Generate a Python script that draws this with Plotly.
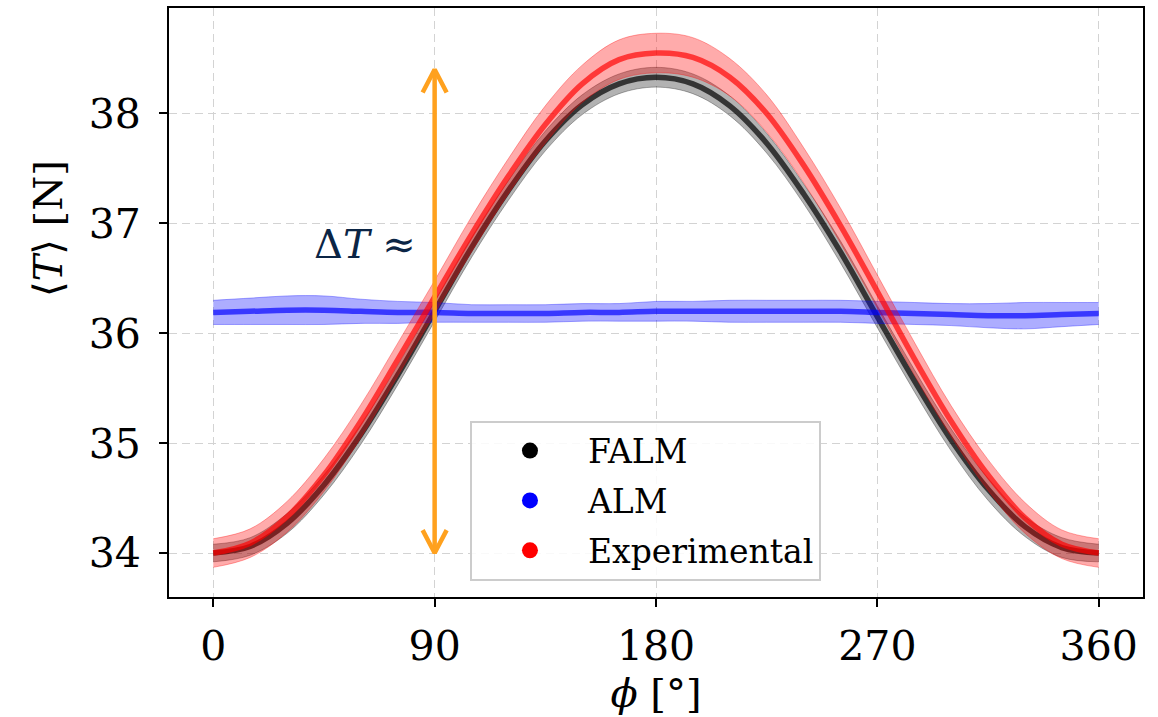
import plotly.graph_objects as go

# ---------------- data ----------------
phi = [0, 15, 30, 45, 60, 75, 90, 105, 120, 135, 150, 165, 180,
       195, 210, 225, 240, 255, 270, 285, 300, 315, 330, 345, 360]

falm_mean = [34.00, 34.06, 34.27, 34.62, 35.08, 35.62, 36.20, 36.78, 37.30, 37.75, 38.08, 38.27, 38.33,
             38.27, 38.07, 37.73, 37.27, 36.74, 36.15, 35.57, 35.03, 34.58, 34.24, 34.05, 34.00]
falm_std = [0.08, 0.08, 0.09, 0.09, 0.09, 0.09, 0.09, 0.09, 0.09, 0.09, 0.09, 0.09, 0.09,
            0.09, 0.09, 0.09, 0.09, 0.10, 0.10, 0.10, 0.10, 0.10, 0.09, 0.09, 0.08]

alm_mean = [36.19, 36.20, 36.21, 36.21, 36.20, 36.19, 36.19, 36.18, 36.18, 36.18, 36.19, 36.19, 36.20,
            36.20, 36.20, 36.20, 36.20, 36.20, 36.19, 36.18, 36.17, 36.16, 36.16, 36.17, 36.18]
alm_std = [0.11, 0.12, 0.13, 0.13, 0.11, 0.10, 0.09, 0.08, 0.08, 0.08, 0.08, 0.08, 0.09,
           0.09, 0.10, 0.10, 0.10, 0.10, 0.10, 0.10, 0.10, 0.11, 0.12, 0.11, 0.10]

exp_mean = [34.00, 34.09, 34.33, 34.71, 35.20, 35.76, 36.33, 36.90, 37.43, 37.90, 38.27, 38.49, 38.55,
            38.51, 38.33, 38.00, 37.53, 36.98, 36.38, 35.77, 35.20, 34.71, 34.32, 34.08, 34.00]
exp_std = [0.13, 0.13, 0.14, 0.15, 0.15, 0.15, 0.15, 0.16, 0.16, 0.17, 0.17, 0.18, 0.18,
           0.18, 0.17, 0.17, 0.16, 0.16, 0.15, 0.15, 0.14, 0.14, 0.14, 0.13, 0.13]

series_names = ["FALM", "ALM", "Experimental"]

x_ticks = [0, 90, 180, 270, 360]
y_ticks = [34, 35, 36, 37, 38]

# Delta-T arrow (data coordinates)
arrow_x = 90
arrow_y = [34.0, 38.4]
delta_label = "Δ<i>T</i> ≈"
delta_pos = (40, 36.81)

x_title = "<i>ϕ</i> [°]"
y_title = "⟨<i>T</i>⟩ [N]"

# ---------------- styles ----------------
FONT = "DejaVu Serif, Liberation Serif, serif"
styles = {
    "FALM": dict(band="rgba(0,0,0,0.30)", line="rgba(0,0,0,0.70)", marker="black"),
    "ALM": dict(band="rgba(0,0,255,0.32)", line="rgba(0,0,255,0.68)", marker="blue"),
    "Experimental": dict(band="rgba(255,0,0,0.33)", line="rgba(255,0,0,0.68)", marker="red"),
}
series = {
    "FALM": (falm_mean, falm_std),
    "ALM": (alm_mean, alm_std),
    "Experimental": (exp_mean, exp_std),
}

X_RANGE = [-18, 378]
Y_RANGE = [33.60, 38.96]
W, H = 1158, 717
M = dict(l=169, r=15, t=6, b=120)
px_per_x = (W - M["l"] - M["r"]) / (X_RANGE[1] - X_RANGE[0])
px_per_y = (H - M["t"] - M["b"]) / (Y_RANGE[1] - Y_RANGE[0])

fig = go.Figure()

for name in series_names:
    mean, std = series[name]
    st = styles[name]
    upper = [m + s for m, s in zip(mean, std)]
    lower = [m - s for m, s in zip(mean, std)]
    fig.add_trace(go.Scatter(x=phi, y=upper, mode="lines", line=dict(color=st["band"], width=1, shape="spline"),
                             showlegend=False, hoverinfo="skip"))
    fig.add_trace(go.Scatter(x=phi, y=lower, mode="lines", line=dict(color=st["band"], width=1, shape="spline"),
                             fill="tonexty", fillcolor=st["band"], showlegend=False, hoverinfo="skip"))
    fig.add_trace(go.Scatter(x=phi, y=mean, mode="lines", line=dict(color=st["line"], width=5.5, shape="spline"),
                             showlegend=False, name=name))

# Legend entries (circle markers)
for name in series_names:
    fig.add_trace(go.Scatter(x=[None], y=[None], mode="markers", name=name, legendgroup=name,
                             marker=dict(color=styles[name]["marker"], size=20, symbol="circle")))

# Double-headed arrow
ORANGE = "#FFA11E"
head_dx = 12 / px_per_x
head_dy = 23 / px_per_y
fig.add_trace(go.Scatter(x=[arrow_x, arrow_x], y=arrow_y, mode="lines",
                         line=dict(color=ORANGE, width=4.5), showlegend=False, hoverinfo="skip"))
fig.add_trace(go.Scatter(x=[arrow_x - head_dx, arrow_x, arrow_x + head_dx],
                         y=[arrow_y[1] - head_dy, arrow_y[1], arrow_y[1] - head_dy], mode="lines",
                         line=dict(color=ORANGE, width=4.5), showlegend=False, hoverinfo="skip"))
fig.add_trace(go.Scatter(x=[arrow_x - head_dx, arrow_x, arrow_x + head_dx],
                         y=[arrow_y[0] + head_dy, arrow_y[0], arrow_y[0] + head_dy], mode="lines",
                         line=dict(color=ORANGE, width=4.5), showlegend=False, hoverinfo="skip"))

fig.add_annotation(x=delta_pos[0], y=delta_pos[1], text=delta_label, showarrow=False,
                   xanchor="left", yanchor="middle", font=dict(family=FONT, size=40, color="#0b2545"))

# y-axis label (placed like the reference, slightly above the axis centre)
fig.add_annotation(xref="paper", yref="y", x=-0.124, y=36.95, text=y_title, textangle=-90,
                   showarrow=False, xanchor="center", yanchor="middle",
                   font=dict(family=FONT, size=40, color="black"))

axis_common = dict(showline=True, linecolor="black", linewidth=2, mirror=True,
                   ticks="outside", ticklen=8, tickwidth=1.5, tickcolor="black",
                   showgrid=True, gridcolor="#d3d3d3", gridwidth=1.3, griddash="8px,5px",
                   zeroline=False, tickfont=dict(family=FONT, size=41, color="black"))

fig.update_xaxes(range=X_RANGE, tickvals=x_ticks, ticktext=[str(v) for v in x_ticks],
                 title=dict(text=x_title, font=dict(family=FONT, size=40, color="black"), standoff=10),
                 ticklabelstandoff=4, **axis_common)
fig.update_yaxes(range=Y_RANGE, tickvals=y_ticks, ticktext=[str(v) for v in y_ticks],
                 ticklabelstandoff=10, **axis_common)

fig.update_layout(
    width=W, height=H, margin=M,
    plot_bgcolor="white", paper_bgcolor="white",
    legend=dict(x=0.309, y=0.2995, xanchor="left", yanchor="top",
                font=dict(family=FONT, size=33, color="black"),
                bgcolor="rgba(255,255,255,0.85)", bordercolor="#cccccc", borderwidth=2,
                itemwidth=106, tracegroupgap=4),
)

fig.write_html("out.html")
